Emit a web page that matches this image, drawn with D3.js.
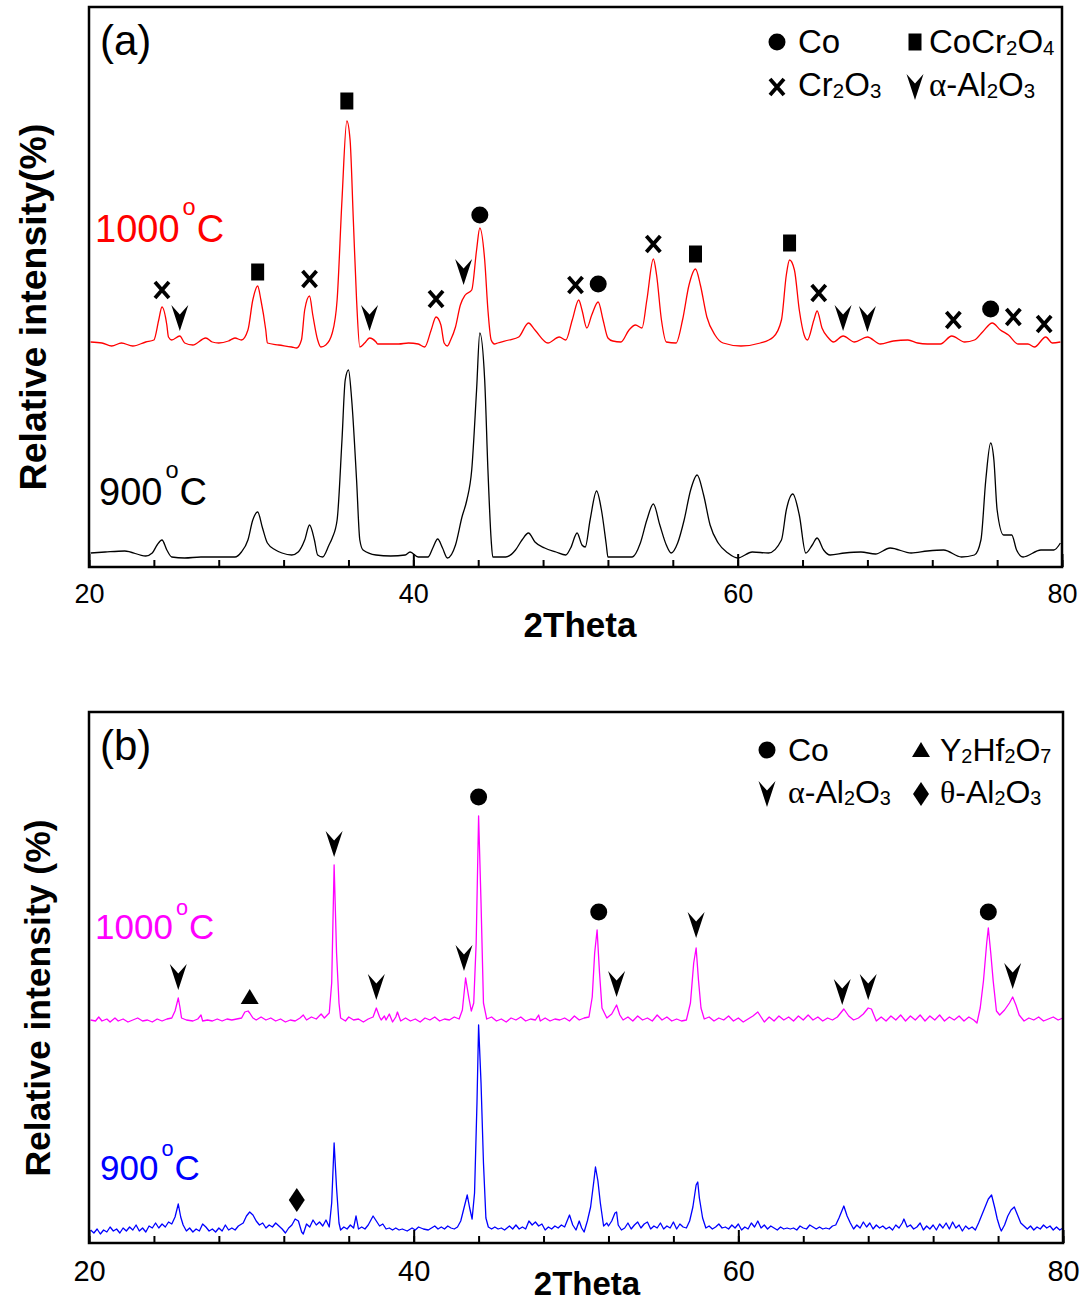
<!DOCTYPE html>
<html>
<head>
<meta charset="utf-8">
<script src="https://cdn.jsdelivr.net/npm/d3@7"></script>
<style>
  body { margin: 0; background: #fff; }
  text { font-family: "Liberation Sans", Arial, sans-serif; }
</style>
</head>
<body>
<svg id="chart" width="1083" height="1303"></svg>
<script>
// ---- data: [2theta, intensity (a.u.)] ----
const minorTicks = d3.range(20, 81, 4);
const majorTicks = [20, 40, 60, 80];

// panel (a)
const a1000 = [[20.1,225],[20.8,224],[21.4,221],[22.0,224],[22.7,221],[23.5,225],[24.0,227],[24.3,247],[24.5,260],[24.8,242],[24.9,230],[25.1,227],[25.6,231],[25.9,224],[26.4,222],[27.2,229],[27.6,225],[28.0,224],[28.6,226],[29.0,229],[29.4,227],[29.8,237],[30.1,267],[30.4,281],[30.6,267],[30.9,237],[31.0,224],[31.7,222],[32.5,220],[32.8,219],[33.1,227],[33.3,257],[33.6,271],[33.8,252],[34.1,227],[34.3,220],[34.6,222],[35.0,234],[35.3,267],[35.6,367],[35.9,446],[36.1,427],[36.3,347],[36.5,267],[36.7,220],[37.0,224],[37.3,229],[37.7,225],[37.8,223],[38.5,223],[39.1,223],[39.7,224],[40.3,223],[40.7,220],[41.1,237],[41.4,250],[41.7,242],[41.9,224],[42.1,221],[42.3,227],[42.6,240],[42.9,262],[43.2,272],[43.6,277],[43.9,317],[44.1,339],[44.4,307],[44.6,257],[44.8,227],[45.0,223],[45.2,224],[45.9,227],[46.5,230],[47.1,244],[47.5,237],[48.3,224],[49.0,230],[49.4,227],[49.8,247],[50.2,267],[50.4,257],[50.7,239],[51.0,252],[51.4,265],[51.7,247],[52.0,229],[52.3,226],[52.8,225],[53.3,237],[53.7,242],[54.1,239],[54.4,267],[54.8,308],[55.0,292],[55.3,247],[55.6,225],[56.2,224],[56.6,247],[57.0,282],[57.4,298],[57.7,282],[58.1,250],[58.6,232],[59.1,224],[60.2,221],[61.4,224],[62.2,230],[62.7,247],[63.0,292],[63.2,307],[63.5,297],[63.8,257],[64.1,232],[64.3,227],[64.7,247],[64.9,256],[65.2,239],[65.6,229],[65.9,225],[66.5,231],[67.2,225],[68.0,230],[68.8,223],[69.6,226],[70.5,227],[71.1,224],[71.7,223],[72.5,223],[73.2,231],[74.0,225],[74.6,227],[75.1,235],[75.7,244],[76.2,237],[76.7,232],[77.3,223],[77.9,223],[78.3,220],[79.0,230],[79.4,224],[79.9,225]];

const a900 = [[20.1,14],[21.0,15],[22.2,16],[23.5,11],[23.9,14],[24.2,22],[24.5,27],[24.8,17],[25.1,10],[25.9,9],[26.9,10],[28.0,10],[29.0,10],[29.4,15],[29.8,27],[30.1,47],[30.4,55],[30.7,39],[31.0,24],[31.5,17],[31.9,14],[32.5,12],[32.9,15],[33.3,27],[33.6,42],[33.9,27],[34.1,12],[34.4,10],[34.8,22],[35.0,29],[35.3,47],[35.6,127],[35.8,187],[36.0,197],[36.2,167],[36.5,87],[36.7,27],[36.9,17],[37.7,12],[38.6,11],[39.5,12],[39.8,15],[40.3,10],[40.9,10],[41.2,19],[41.5,28],[41.8,19],[42.1,9],[42.6,22],[43.0,50],[43.3,67],[43.6,97],[43.9,177],[44.1,234],[44.4,187],[44.6,97],[44.8,27],[44.9,10],[45.7,10],[46.3,17],[46.7,27],[47.1,34],[47.5,25],[48.1,19],[48.8,15],[49.4,12],[49.7,19],[50.1,34],[50.4,22],[50.6,20],[50.9,47],[51.3,76],[51.6,57],[51.9,22],[52.0,10],[52.8,10],[53.5,10],[54.0,24],[54.4,47],[54.8,63],[55.2,42],[55.6,22],[55.9,14],[56.3,24],[56.7,47],[57.1,77],[57.5,92],[57.9,72],[58.3,42],[58.8,24],[59.4,14],[60.0,9],[60.9,15],[61.9,14],[62.7,27],[63.0,57],[63.4,73],[63.8,52],[64.2,14],[64.6,22],[64.9,29],[65.3,17],[65.7,12],[66.6,14],[67.6,15],[68.5,13],[69.4,19],[70.7,14],[71.7,16],[72.7,17],[73.8,10],[74.6,12],[75.0,27],[75.3,87],[75.6,124],[75.8,107],[76.0,57],[76.4,32],[76.9,32],[77.2,17],[77.6,10],[78.7,17],[79.5,17],[79.9,24]];

// phase markers: [symbol, 2theta, intensity]
const marksA = [["x",24.5,277],["arrow",25.6,249],["square",30.4,295],["x",33.6,288],["square",35.9,466],["arrow",37.3,249],["x",41.4,268],["arrow",43.1,295],["dot",44.1,352],["x",50.0,282],["dot",51.4,283],["x",54.8,323],["square",57.4,313],["square",63.2,324],["x",65.0,274],["arrow",66.5,249],["arrow",68.0,248],["x",73.3,247],["dot",75.6,258],["x",77.0,250],["x",78.9,243]];

const legendA = [["dot","Co"],["square","CoCr_2O_4"],["x","Cr_2O_3"],["arrow","α-Al_2O_3"]];

// panel (b)
const b1000 = [[20.1,223],[20.4,222],[20.6,226],[20.8,222],[21.1,224],[21.3,221],[21.6,225],[21.8,222],[22.1,224],[22.4,221],[22.7,223],[23.0,225],[23.3,222],[23.6,223],[23.9,221],[24.2,224],[24.5,222],[24.8,224],[25.1,225],[25.3,232],[25.5,245],[25.6,236],[25.7,225],[26.0,223],[26.4,222],[26.7,224],[26.9,228],[27.0,222],[27.3,223],[27.6,222],[27.9,224],[28.2,222],[28.5,224],[28.8,223],[29.1,224],[29.4,225],[29.6,231],[29.8,232],[29.9,230],[30.1,225],[30.3,223],[30.6,226],[30.9,223],[31.2,225],[31.5,222],[31.8,224],[32.1,221],[32.4,223],[32.7,222],[33.0,225],[33.2,228],[33.4,223],[33.7,226],[34.0,224],[34.3,229],[34.5,225],[34.8,230],[34.95,260],[35.1,378],[35.25,290],[35.4,240],[35.5,225],[35.8,222],[36.0,226],[36.3,223],[36.6,224],[36.9,221],[37.2,224],[37.5,226],[37.7,235],[37.9,226],[38.0,223],[38.2,227],[38.3,223],[38.5,229],[38.7,221],[38.9,226],[39.0,231],[39.2,222],[39.5,225],[39.8,222],[40.1,224],[40.4,221],[40.7,225],[41.0,223],[41.3,226],[41.6,222],[41.9,224],[42.2,223],[42.5,226],[42.8,224],[43.0,233],[43.2,265],[43.4,245],[43.55,232],[43.7,240],[43.85,300],[44.0,427],[44.15,340],[44.3,240],[44.5,224],[44.8,226],[45.1,222],[45.4,224],[45.7,221],[46.0,225],[46.3,223],[46.6,226],[46.9,222],[47.2,224],[47.5,223],[47.7,228],[47.8,222],[48.1,225],[48.4,222],[48.7,224],[49.0,223],[49.3,225],[49.6,222],[49.9,227],[50.2,223],[50.5,225],[50.8,226],[51.0,246],[51.15,290],[51.3,313],[51.45,270],[51.6,235],[51.9,225],[52.2,229],[52.5,238],[52.7,228],[52.9,223],[53.2,226],[53.5,222],[53.8,227],[54.1,223],[54.4,225],[54.7,222],[55.0,228],[55.3,223],[55.6,226],[55.9,222],[56.2,224],[56.5,222],[56.8,223],[57.05,240],[57.25,280],[57.4,295],[57.55,262],[57.7,235],[57.9,224],[58.2,226],[58.5,222],[58.8,225],[59.1,223],[59.4,227],[59.7,222],[60.0,225],[60.3,221],[60.6,224],[60.9,227],[61.2,231],[61.4,226],[61.6,221],[61.9,226],[62.2,222],[62.5,227],[62.8,223],[63.1,226],[63.4,222],[63.7,227],[64.0,223],[64.3,228],[64.6,223],[64.9,226],[65.2,222],[65.5,225],[65.8,223],[66.1,226],[66.5,234],[66.8,227],[67.1,223],[67.4,225],[67.7,229],[68.0,235],[68.2,234],[68.5,222],[68.8,226],[69.1,222],[69.4,227],[69.7,223],[70.0,228],[70.3,222],[70.6,227],[70.9,223],[71.2,228],[71.5,222],[71.8,227],[72.1,223],[72.4,228],[72.7,222],[73.0,226],[73.3,223],[73.6,227],[73.9,222],[74.2,226],[74.5,223],[74.7,220],[74.9,235],[75.1,262],[75.3,300],[75.4,315],[75.55,290],[75.7,262],[75.9,232],[76.1,228],[76.4,233],[76.7,240],[76.9,246],[77.1,238],[77.3,228],[77.6,222],[77.9,225],[78.2,223],[78.5,226],[78.8,222],[79.1,224],[79.4,226],[79.7,223],[80.0,225]];

const b900 = [[20.1,13],[20.3,10],[20.5,14],[20.7,9],[20.9,13],[21.1,11],[21.3,16],[21.5,12],[21.7,14],[21.9,10],[22.1,15],[22.3,12],[22.5,16],[22.7,13],[22.9,18],[23.1,12],[23.3,15],[23.5,11],[23.7,17],[23.9,15],[24.1,20],[24.3,15],[24.5,19],[24.7,16],[24.9,21],[25.1,19],[25.3,26],[25.5,39],[25.65,26],[25.8,18],[26.0,12],[26.2,15],[26.4,11],[26.6,14],[26.8,12],[27.0,19],[27.2,16],[27.4,12],[27.6,14],[27.8,11],[28.0,15],[28.2,12],[28.4,18],[28.6,13],[28.8,15],[29.0,13],[29.2,17],[29.5,20],[29.7,27],[29.9,31],[30.1,28],[30.3,22],[30.5,18],[30.7,20],[30.9,15],[31.1,18],[31.3,16],[31.5,20],[31.7,17],[31.9,14],[32.1,10],[32.3,15],[32.5,18],[32.7,24],[32.9,22],[33.1,11],[33.2,9],[33.4,19],[33.6,16],[33.8,23],[34.0,18],[34.2,21],[34.4,17],[34.6,23],[34.8,16],[34.95,40],[35.1,100],[35.25,55],[35.4,20],[35.5,13],[35.7,16],[35.9,14],[36.1,18],[36.3,15],[36.45,27],[36.6,14],[36.8,16],[37.0,14],[37.2,18],[37.4,24],[37.5,27],[37.7,22],[37.9,17],[38.1,19],[38.3,14],[38.5,15],[38.7,13],[38.9,15],[39.1,13],[39.3,14],[39.6,12],[39.9,15],[40.1,13],[40.3,16],[40.6,14],[40.9,13],[41.1,15],[41.3,17],[41.5,14],[41.7,16],[41.9,14],[42.1,17],[42.3,15],[42.5,14],[42.7,16],[42.9,22],[43.1,35],[43.3,48],[43.45,35],[43.6,24],[43.75,50],[43.9,140],[44.0,218],[44.15,160],[44.3,80],[44.45,25],[44.6,16],[44.8,14],[45.0,16],[45.2,14],[45.4,15],[45.6,13],[45.9,17],[46.1,14],[46.3,18],[46.5,14],[46.7,16],[46.9,14],[47.1,22],[47.3,18],[47.5,21],[47.7,17],[47.9,19],[48.1,13],[48.3,16],[48.5,14],[48.7,17],[48.9,15],[49.1,18],[49.3,16],[49.5,24],[49.6,28],[49.8,18],[50.0,13],[50.2,22],[50.35,15],[50.5,11],[50.7,22],[50.9,36],[51.1,62],[51.2,76],[51.35,62],[51.5,40],[51.7,17],[51.9,20],[52.0,17],[52.2,22],[52.4,30],[52.5,31],[52.6,18],[52.8,13],[53.0,15],[53.2,20],[53.4,14],[53.6,18],[53.8,21],[54.0,15],[54.2,19],[54.4,21],[54.6,14],[54.8,17],[55.0,15],[55.2,20],[55.4,14],[55.6,17],[55.8,15],[56.0,21],[56.2,14],[56.4,19],[56.6,16],[56.8,15],[57.0,22],[57.2,36],[57.4,58],[57.5,61],[57.6,45],[57.8,25],[58.0,15],[58.2,17],[58.4,14],[58.6,16],[58.8,19],[59.0,15],[59.2,16],[59.4,14],[59.6,18],[59.8,15],[60.0,19],[60.2,13],[60.4,16],[60.6,14],[60.8,20],[61.0,16],[61.2,22],[61.4,15],[61.6,18],[61.8,14],[62.0,17],[62.2,15],[62.4,13],[62.6,16],[62.8,14],[63.0,15],[63.2,14],[63.4,15],[63.6,13],[63.8,17],[64.0,15],[64.2,14],[64.4,18],[64.6,16],[64.8,14],[65.0,16],[65.2,14],[65.4,15],[65.6,14],[65.8,17],[66.0,18],[66.2,25],[66.4,33],[66.5,37],[66.7,27],[66.9,20],[67.1,14],[67.3,18],[67.5,15],[67.7,21],[67.9,16],[68.1,20],[68.3,14],[68.5,18],[68.7,15],[68.9,17],[69.1,14],[69.3,16],[69.5,13],[69.7,18],[69.9,15],[70.1,20],[70.2,24],[70.4,16],[70.6,18],[70.8,14],[71.0,16],[71.2,20],[71.4,13],[71.6,17],[71.8,14],[72.0,18],[72.2,13],[72.4,19],[72.6,15],[72.8,20],[73.0,14],[73.2,21],[73.4,15],[73.6,18],[73.8,12],[74.0,17],[74.2,14],[74.4,16],[74.6,13],[74.8,20],[75.0,28],[75.2,36],[75.4,44],[75.6,48],[75.8,35],[75.95,24],[76.1,16],[76.2,12],[76.4,18],[76.6,27],[76.8,33],[77.0,36],[77.2,28],[77.4,20],[77.6,17],[77.8,14],[78.0,17],[78.2,13],[78.4,16],[78.6,14],[78.8,18],[79.0,15],[79.2,17],[79.4,13],[79.6,16],[79.8,13],[80.0,15]];

const marksB = [["arrow",25.5,266],["tri",29.9,246],["diamond",32.8,43],["arrow",35.1,399],["arrow",37.7,256],["arrow",43.1,285],["dot",44.0,446],["dot",51.4,331],["arrow",52.5,259],["arrow",57.4,318],["arrow",66.4,251],["arrow",68.0,256],["dot",75.4,331],["arrow",76.9,267]];

const legendB = [["dot","Co"],["tri","Y_2Hf_2O_7"],["arrow","α-Al_2O_3"],["diamond","θ-Al_2O_3"]];

// ---- drawing ----
const svg = d3.select("#chart");

const shapes = {
    square: "M-6.5,-8.5H6.5V8.5H-6.5Z",
    arrow: "M-8.5,-13L0,-3.5L8.5,-13L0,13Z",
    tri: "M0,-8L9,7H-9Z",
    diamond: "M0,-12L8,0L0,12L-8,0Z",
    x: "M-7,-8L7,8M7,-8L-7,8"
};

function drawSymbol(g, kind, cx, cy) {
    if (kind === "dot") {
        g.append("circle").attr("cx", cx).attr("cy", cy).attr("r", 8.5).attr("fill", "#000");
        return;
    }
    const p = g.append("path").attr("d", shapes[kind])
        .attr("transform", `translate(${cx},${cy})`);
    if (kind === "x") p.attr("fill", "none").attr("stroke", "#000").attr("stroke-width", 3.8);
    else p.attr("fill", "#000");
}

// formula text with "_d" subscripts and greek letters in a serif face
function richText(t, str, size) {
    const parts = str.match(/_\d|[αθ]|[^_αθ]+/g);
    let low = false;
    parts.forEach(part => {
        const s = t.append("tspan");
        if (part[0] === "_") {
            s.text(part.slice(1)).attr("font-size", size * 0.62).attr("dy", low ? 0 : size * 0.06);
            low = true;
        } else {
            s.text(part).attr("dy", low ? -size * 0.06 : 0);
            low = false;
            if (/[αθ]/.test(part)) s.attr("font-family", '"Liberation Serif", "DejaVu Serif", serif');
        }
    });
}

// temperature label like 1000°C with a raised small "o"
function tempLabel(g, num, x, y, size, color) {
    const t = g.append("text").attr("x", x).attr("y", y).attr("font-size", size).attr("fill", color);
    t.append("tspan").text(num);
    t.append("tspan").text("o").attr("font-size", size * 0.62).attr("dx", 3).attr("dy", -size * 0.7);
    t.append("tspan").text("C").attr("dx", 1).attr("dy", size * 0.7);
}

const panels = [
    {
        tag: "(a)", box: { l: 89, r: 1062, t: 7, b: 567 }, yMax: 560, curve: d3.curveMonotoneX,
        series: [{ data: a1000, color: "#ff0000", label: "1000", lx: 95, ly: 242 },
                 { data: a900, color: "#000000", label: "900", lx: 99, ly: 505 }],
        marks: marksA, legend: legendA,
        leg: { sx: [777, 915], tx: [798, 929], sy: [42, 87], ty: [53, 96], size: 33 },
        tempSize: 38, tickFont: 27, tickPad: 17,
        xTitle: { x: 580, y: 637, size: 35 },
        yTitle: { text: "Relative intensity(%)", x: 46, y: 307, size: 37.5 }
    },
    {
        tag: "(b)", box: { l: 89, r: 1063, t: 712, b: 1243 }, yMax: 531, curve: d3.curveLinear,
        series: [{ data: b1000, color: "#ff00ff", label: "1000", lx: 95, ly: 939 },
                 { data: b900, color: "#0000ff", label: "900", lx: 100, ly: 1180 }],
        marks: marksB, legend: legendB,
        leg: { sx: [767, 921], tx: [788, 940], sy: [750, 794], ty: [761, 803], size: 32 },
        tempSize: 35, tickFont: 29, tickPad: 17,
        xTitle: { x: 587, y: 1295, size: 33 },
        yTitle: { text: "Relative intensity (%)", x: 50, y: 998, size: 35.5 }
    }
];

panels.forEach(p => {
    const b = p.box;
    const x = d3.scaleLinear().domain([20, 80]).range([b.l, b.r]);
    const y = d3.scaleLinear().domain([0, p.yMax]).range([b.b, b.t]);
    const g = svg.append("g");

    // patterns
    const line = d3.line().x(d => x(d[0])).y(d => y(d[1])).curve(p.curve);
    p.series.forEach(s => {
        g.append("path").datum(s.data)
            .attr("d", line)
            .attr("fill", "none")
            .attr("stroke", s.color)
            .attr("stroke-width", 1.3)
            .attr("stroke-linejoin", "round");
        tempLabel(g, s.label, s.lx, s.ly, p.tempSize, s.color);
    });

    // phase markers
    p.marks.forEach(m => drawSymbol(g, m[0], x(m[1]), y(m[2])));

    // axis ticks (inward) and labels
    const gx = g.append("g").attr("transform", `translate(0,${b.b})`);
    gx.append("g").call(d3.axisBottom(x).tickValues(minorTicks).tickSizeInner(-7).tickSizeOuter(0).tickFormat(""));
    gx.append("g").call(d3.axisBottom(x).tickValues(majorTicks).tickSizeInner(-13).tickSizeOuter(0).tickPadding(p.tickPad));
    gx.selectAll(".domain").remove();
    gx.selectAll(".tick line").attr("stroke", "#000").attr("stroke-width", 2);
    gx.selectAll(".tick text").attr("font-size", p.tickFont)
        .attr("font-family", '"Liberation Sans", Arial, sans-serif').attr("fill", "#000");

    // frame
    g.append("rect").attr("x", b.l).attr("y", b.t)
        .attr("width", b.r - b.l).attr("height", b.b - b.t)
        .attr("fill", "none").attr("stroke", "#000").attr("stroke-width", 2.5);

    // titles
    g.append("text").attr("x", p.xTitle.x).attr("y", p.xTitle.y)
        .attr("text-anchor", "middle").attr("font-size", p.xTitle.size)
        .attr("font-weight", "bold").text("2Theta");
    g.append("text")
        .attr("transform", `translate(${p.yTitle.x},${p.yTitle.y}) rotate(-90)`)
        .attr("text-anchor", "middle").attr("font-size", p.yTitle.size)
        .attr("font-weight", "bold").text(p.yTitle.text);
    g.append("text").attr("x", b.l + 11).attr("y", b.t + 48)
        .attr("font-size", 42).attr("font-weight", 300)
        .attr("font-family", '"Noto Sans CJK SC", "Open Sans", "DejaVu Sans", sans-serif')
        .text(p.tag);

    // legend, 2 x 2
    p.legend.forEach((item, i) => {
        const col = i % 2, row = Math.floor(i / 2);
        drawSymbol(g, item[0], p.leg.sx[col], p.leg.sy[row]);
        const t = g.append("text").attr("x", p.leg.tx[col]).attr("y", p.leg.ty[row])
            .attr("font-size", p.leg.size);
        richText(t, item[1], p.leg.size);
    });
});
</script>
</body>
</html>
